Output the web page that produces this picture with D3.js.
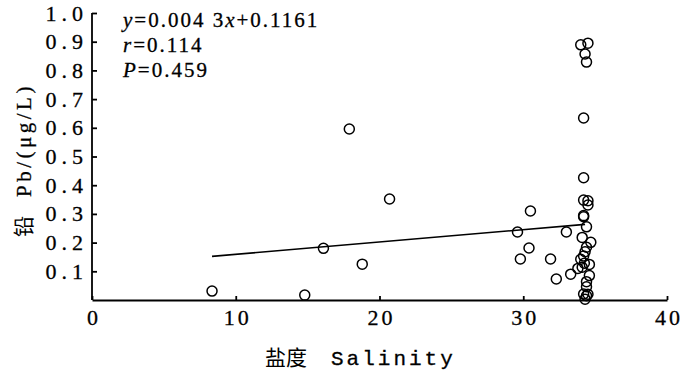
<!DOCTYPE html>
<html>
<head>
<meta charset="utf-8">
<script src="https://cdn.jsdelivr.net/npm/d3@7"></script>
<style>
  body { margin: 0; background: white; }
  .axis path, .axis line { stroke: black; stroke-width: 1.8; }
  .axis text { font-family: "Liberation Serif", serif; font-size: 22px; fill: black; stroke: black; stroke-width: 0.3; }
</style>
</head>
<body>
<script>
// salinity vs lead points
var salinity = [8.35, 14.8, 16.1, 17.9, 18.8, 20.7, 30.5, 29.6, 29.8, 30.4, 31.9, 32.3, 33.0, 33.3,
                34.0, 34.5, 34.3, 34.4, 34.2, 34.2, 34.2, 34.5, 34.5, 34.2, 34.2, 34.4, 34.1, 34.7,
                34.4, 34.3, 34.2, 34.0, 34.25, 34.6, 33.8, 34.1, 34.6, 34.4, 34.4, 34.2, 34.4, 34.3, 34.5];
var lead = [0.031, 0.017, 0.18, 0.596, 0.125, 0.352, 0.31, 0.237, 0.143, 0.181, 0.143, 0.073, 0.237, 0.09,
            0.889, 0.895, 0.857, 0.829, 0.634, 0.426, 0.348, 0.346, 0.331, 0.294, 0.29, 0.255, 0.218, 0.201,
            0.184, 0.168, 0.153, 0.142, 0.128, 0.124, 0.11, 0.114, 0.085, 0.064, 0.046, 0.021, 0.015, 0.003, 0.02];
var xTicks = [0, 10, 20, 30, 40];
var yTicks = [0.1, 0.2, 0.3, 0.4, 0.5, 0.6, 0.7, 0.8, 0.9, 1.0];
var slope = 0.0043, intercept = 0.1161;
var fitRange = [8.35, 34.3];

var width = 700, height = 372;
var svg = d3.select("body").append("svg")
    .attr("width", width)
    .attr("height", height);

var x = d3.scaleLinear().domain([0, 40]).range([92, 667]);
var y = d3.scaleLinear().domain([0, 1.0]).range([300, 13]);

// y axis, ticks pointing inward
var yAxis = svg.append("g")
    .attr("class", "axis")
    .attr("transform", "translate(92,0)")
    .call(d3.axisLeft(y).tickValues(yTicks).tickSizeInner(-5).tickSizeOuter(0).tickPadding(4)
            .tickFormat(d3.format(".1f")));
yAxis.select(".domain").attr("d", "M0," + y(0) + "V" + y(1.0));
yAxis.selectAll("text").attr("letter-spacing", "5px");

var xAxis = svg.append("g")
    .attr("class", "axis")
    .attr("transform", "translate(0,300)")
    .call(d3.axisBottom(x).tickValues(xTicks).tickSizeInner(-4).tickSizeOuter(0).tickPadding(9));
xAxis.selectAll("text").attr("letter-spacing", "3px").attr("dx", "1.5px");

// fitted line
svg.append("line")
    .attr("x1", x(fitRange[0])).attr("y1", y(slope * fitRange[0] + intercept))
    .attr("x2", x(fitRange[1])).attr("y2", y(slope * fitRange[1] + intercept))
    .attr("stroke", "black")
    .attr("stroke-width", 1.6);

// points
svg.append("g").selectAll("circle")
    .data(salinity)
    .enter().append("circle")
    .attr("cx", function(d){ return x(d); })
    .attr("cy", function(d, i){ return y(lead[i]); })
    .attr("r", 5)
    .attr("fill", "none")
    .attr("stroke", "black")
    .attr("stroke-width", 1.5);

// stats text
var stats = svg.append("g")
    .style("font-family", "'Liberation Serif', serif")
    .style("font-size", "21px")
    .attr("stroke", "black").attr("stroke-width", 0.3);
var l1 = stats.append("text").attr("x", 123).attr("y", 27);
l1.append("tspan").style("font-style", "italic").text("y");
l1.append("tspan").text("=0.004 3");
l1.append("tspan").style("font-style", "italic").text("x");
l1.append("tspan").text("+0.1161");
var l2 = stats.append("text").attr("x", 123).attr("y", 52);
l2.append("tspan").style("font-style", "italic").text("r");
l2.append("tspan").text("=0.114");
var l3 = stats.append("text").attr("x", 123).attr("y", 77);
l3.append("tspan").style("font-style", "italic").text("P");
l3.append("tspan").text("=0.459");
stats.selectAll("text").attr("letter-spacing", "2px");

// axis titles
var xt = svg.append("text")
    .attr("x", 265).attr("y", 365)
    .style("font-size", "21px");
xt.append("tspan").style("font-family", "'Noto Sans CJK SC'").text("盐度");
xt.append("tspan").attr("dx", 24).attr("letter-spacing", "3px")
    .style("font-family", "'Liberation Mono', monospace")
    .attr("stroke", "black").attr("stroke-width", 0.3).text("Salinity");

var yt = svg.append("text")
    .attr("transform", "translate(31,237) rotate(-90)")
    .style("font-size", "21px");
yt.append("tspan").style("font-family", "'Noto Sans CJK SC'").text("铅");
yt.append("tspan").attr("dx", 19)
    .style("font-family", "'Liberation Serif', serif")
    .attr("letter-spacing", "3.5px")
    .attr("stroke", "black").attr("stroke-width", 0.3).text("Pb/(μg/L)");
</script>
</body>
</html>
